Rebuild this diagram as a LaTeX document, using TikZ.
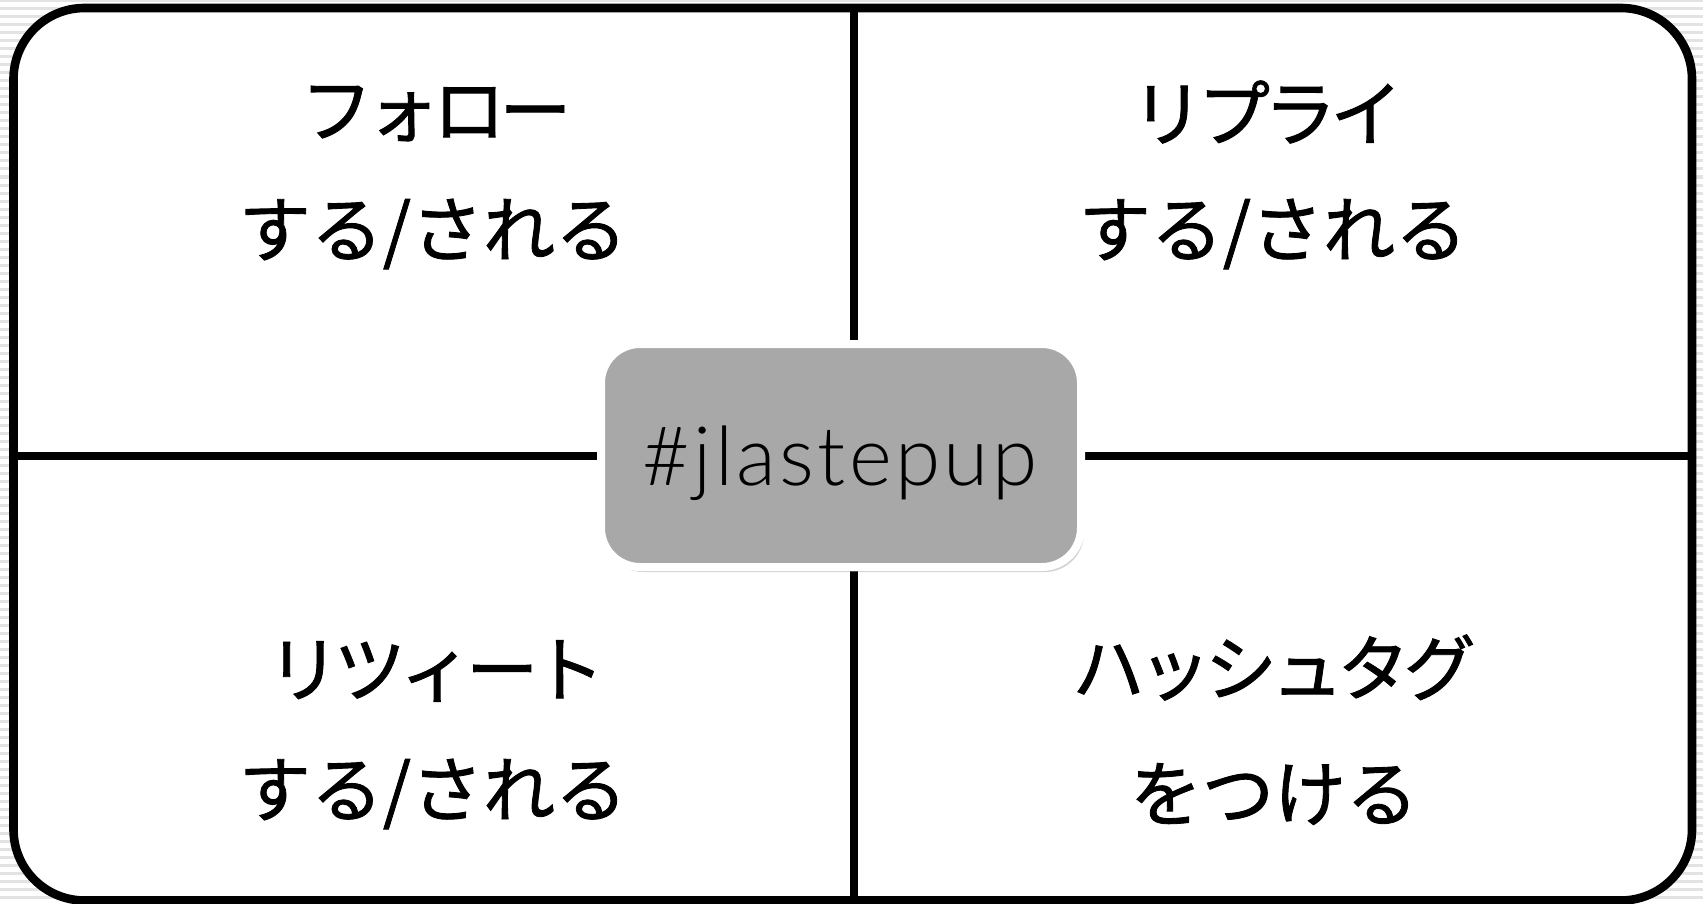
\documentclass[tikz,border=0pt]{standalone}
\usepackage{fontspec}
\setmainfont{Noto Sans CJK JP}[FakeBold=1.2]
\newfontfamily\katafont{Noto Sans CJK JP}[FakeBold=1.2, LetterSpace=-8]
\newfontfamily\thinfont{Lato Light}[LetterSpace=4]
\usetikzlibrary{shadows}
\tikzset{
  stripe/.style={draw=gray!22, line width=1.5pt},
  frame/.style={draw=black, line width=4.3pt, fill=white, rounded corners=35.5pt},
  divider/.style={draw=black, line width=4.3pt},
  qtext/.style={inner sep=0pt, anchor=center, font=\fontsize{36}{43}\selectfont},
  ktext/.style={qtext, font=\katafont\fontsize{36}{43}\selectfont},
  tagbox/.style={draw=white, line width=4pt, fill=black!34, rounded corners=19.5pt,
    minimum width=240pt, minimum height=111.5pt, inner sep=0pt,
    drop shadow={opacity=0.35, shadow xshift=1.5pt, shadow yshift=-2.5pt}},
  tagtext/.style={inner sep=0pt, anchor=center, font=\thinfont\fontsize{41}{48}\selectfont}
}
\begin{document}
\begin{tikzpicture}[x=0.5pt, y=-0.5pt]
  \useasboundingbox (0,0) rectangle (1703,904);
  \foreach \yy in {1,9,...,905} {\draw[stripe] (0,\yy) -- (1703,\yy);}
  \path[frame] (13.5,8) rectangle (1692,900.5);
  \coordinate (vt) at (854,8);
  \coordinate (vb) at (854,900.5);
  \coordinate (hl) at (13.5,456);
  \coordinate (hr) at (1692,456);
  \draw[divider] (vt) -- (vb);
  \draw[divider] (hl) -- (hr);
  \node[tagbox] (box) at (841,455.5) {};
  \node[tagtext] (tag) at (840,463.5) {\#jlastepup};
  \node[ktext] (tl1) at (436,113.5) {フォロー};
  \node[qtext] (tl2) at (433,234) {する/される};
  \node[ktext] (tr1) at (1267,112) {リプライ};
  \node[qtext] (tr2) at (1273,234) {する/される};
  \node[ktext] (bl1) at (436,671) {リツィート};
  \node[qtext] (bl2) at (433,794) {する/される};
  \node[ktext] (br1) at (1274,667.5) {ハッシュタグ};
  \node[qtext] (br2) at (1274,794) {をつける};
\end{tikzpicture}
\end{document}
